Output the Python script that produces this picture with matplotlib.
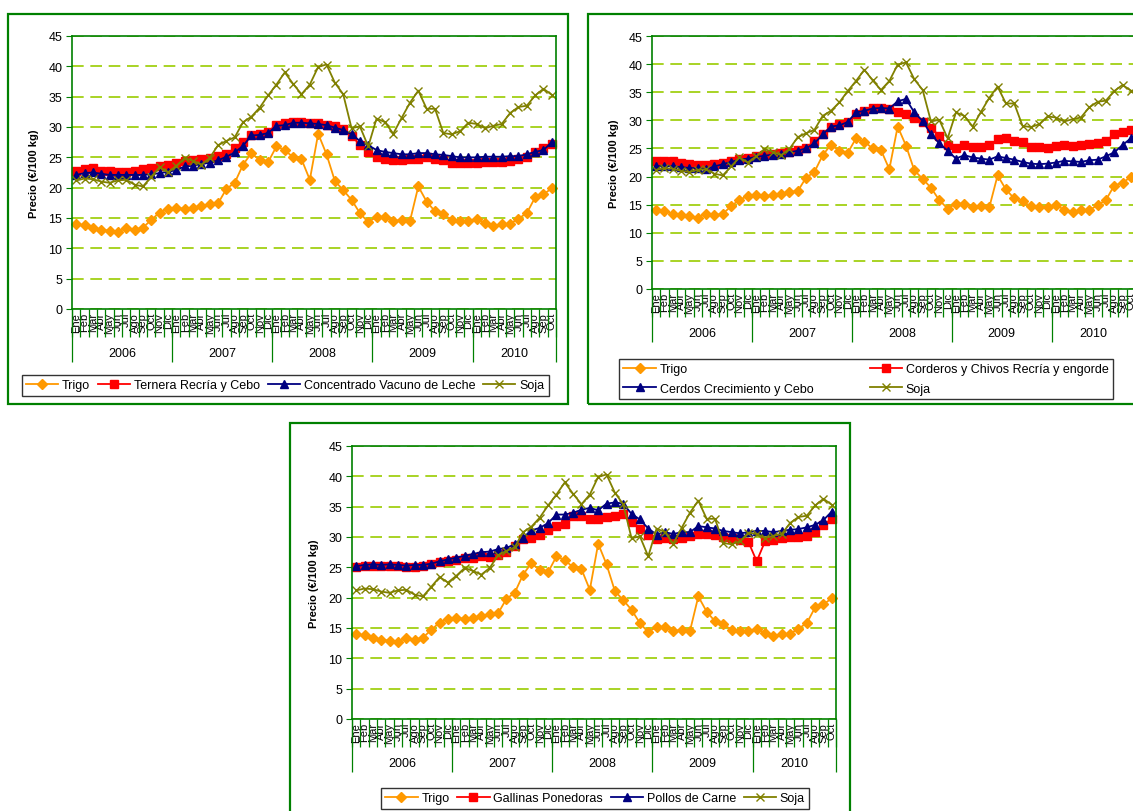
import numpy as np
import matplotlib
matplotlib.use("Agg")
import matplotlib.pyplot as plt
from matplotlib.patches import Rectangle

plt.rcParams["font.family"] = ["Liberation Sans", "DejaVu Sans"]

months = ["Ene", "Feb", "Mar", "Abr", "May", "Jun", "Jul", "Ago", "Sep", "Oct", "Nov", "Dic"]
years = ["2006", "2007", "2008", "2009", "2010"]
month_labels = months * 4 + months[:10]

trigo = [14.0, 13.8, 13.4, 13.1, 12.9, 12.7, 13.4, 13.1, 13.4, 14.7, 15.9, 16.5,
         16.7, 16.5, 16.7, 16.9, 17.3, 17.4, 19.8, 20.8, 23.8, 25.7, 24.5, 24.2,
         26.8, 26.2, 25.0, 24.7, 21.3, 28.9, 25.5, 21.1, 19.6, 18.0, 15.8, 14.3,
         15.2, 15.2, 14.5, 14.7, 14.5, 20.2, 17.7, 16.1, 15.6, 14.7, 14.5, 14.5,
         14.9, 14.1, 13.7, 14.0, 14.0, 14.9, 15.8, 18.4, 18.9, 19.9]
ternera = [22.8, 23.0, 23.2, 22.8, 22.8, 22.6, 22.6, 22.8, 23.0, 23.2, 23.5, 23.8,
           24.1, 24.4, 24.6, 24.7, 24.9, 25.2, 25.6, 26.5, 27.5, 28.6, 28.9, 29.2,
           30.4, 30.7, 30.9, 30.8, 30.7, 30.6, 30.4, 30.2, 29.6, 28.5, 27.1, 25.9,
           25.0, 24.8, 24.6, 24.6, 24.7, 24.8, 25.0, 24.7, 24.5, 24.0, 24.0, 24.0,
           24.0, 24.2, 24.3, 24.2, 24.4, 24.7, 25.0, 25.9, 26.5, 27.2]
concentrado = [22.1, 22.4, 22.5, 22.3, 22.1, 22.1, 22.1, 22.1, 22.1, 22.2, 22.4, 22.6,
               22.9, 23.5, 23.6, 23.9, 24.1, 24.5, 25.1, 25.8, 26.9, 28.6, 28.7, 29.0,
               30.2, 30.3, 30.7, 30.7, 30.6, 30.5, 30.3, 29.9, 29.5, 28.8, 27.7, 27.0,
               26.2, 25.9, 25.7, 25.5, 25.5, 25.7, 25.7, 25.5, 25.4, 25.2, 25.0, 25.0,
               25.0, 25.1, 25.1, 25.1, 25.2, 25.2, 25.5, 25.9, 26.2, 27.5]
soja = [21.2, 21.5, 21.4, 21.0, 20.8, 21.2, 21.3, 20.5, 20.2, 21.8, 23.4, 22.5,
        23.6, 24.9, 24.4, 23.8, 24.9, 27.0, 27.7, 28.3, 30.8, 31.7, 33.2, 35.2,
        37.0, 39.0, 37.1, 35.4, 37.0, 39.9, 40.3, 37.3, 35.4, 29.8, 30.1, 26.8,
        31.4, 30.8, 28.9, 31.5, 34.0, 36.0, 33.0, 33.0, 29.0, 28.8, 29.3, 30.7,
        30.5, 29.8, 30.2, 30.5, 32.3, 33.3, 33.5, 35.2, 36.3, 35.3]
corderos = [22.7, 22.7, 22.7, 22.5, 22.3, 22.1, 22.0, 22.2, 22.5, 22.8, 23.1, 23.3,
            23.6, 23.8, 24.0, 24.2, 24.4, 24.8, 25.1, 26.3, 27.5, 28.9, 29.3, 29.7,
            31.2, 31.7, 32.2, 32.2, 32.0, 31.5, 31.2, 30.4, 29.7, 28.7, 27.2, 25.7,
            25.1, 25.7, 25.3, 25.3, 25.6, 26.6, 26.8, 26.3, 26.2, 25.3, 25.2, 25.0,
            25.4, 25.6, 25.5, 25.6, 25.8, 26.0, 26.3, 27.5, 28.0, 28.2]
cerdos = [21.8, 21.9, 21.8, 21.7, 21.5, 21.5, 21.3, 21.8, 22.2, 22.6, 23.0, 23.2,
          23.5, 23.7, 23.9, 24.1, 24.3, 24.6, 25.0, 25.9, 27.5, 28.9, 29.1, 29.7,
          31.4, 31.7, 32.1, 32.2, 32.1, 33.4, 33.8, 31.4, 29.9, 27.5, 25.9, 24.6,
          23.2, 23.8, 23.4, 23.2, 23.0, 23.6, 23.3, 23.0, 22.6, 22.3, 22.2, 22.3,
          22.5, 22.8, 22.7, 22.6, 22.9, 23.0, 23.6, 24.3, 25.6, 26.8]
gallinas = [25.0, 25.2, 25.3, 25.3, 25.2, 25.2, 25.1, 25.0, 25.2, 25.5, 25.8, 26.0,
            26.2, 26.5, 26.5, 26.8, 26.7, 27.0, 27.5, 28.5, 29.7, 29.9, 30.3, 31.1,
            31.8, 32.2, 33.4, 33.4, 33.0, 33.0, 33.3, 33.5, 33.8, 32.5, 31.4, 30.3,
            29.6, 29.9, 29.7, 29.9, 30.1, 30.5, 30.5, 30.3, 30.0, 29.8, 29.5, 29.2,
            26.0, 29.3, 29.5, 29.8, 30.0, 30.0, 30.2, 30.8, 32.0, 33.0]
pollos = [25.2, 25.4, 25.5, 25.4, 25.5, 25.4, 25.3, 25.4, 25.4, 25.6, 26.0, 26.3,
          26.6, 26.9, 27.2, 27.5, 27.6, 28.0, 28.2, 28.8, 29.9, 31.1, 31.5, 32.3,
          33.7, 33.7, 34.0, 34.5, 34.8, 34.4, 35.5, 35.7, 35.5, 33.8, 32.9, 31.4,
          30.4, 30.8, 30.5, 30.8, 30.8, 31.8, 31.6, 31.4, 31.0, 30.8, 30.6, 30.8,
          31.0, 31.0, 30.8, 31.0, 31.2, 31.3, 31.6, 32.0, 32.8, 34.2]

W, H = 1133, 812
GREEN = "#008000"
GRID = "#99CC00"
ORANGE = "#FF9900"
RED = "#FF0000"
NAVY = "#000080"
OLIVE = "#808000"


def px_rect(x0, y0, x1, y1):
    return [x0 / W, 1 - y1 / H, (x1 - x0) / W, (y1 - y0) / H]


fig = plt.figure(figsize=(W / 100, H / 100), dpi=100)
fig.patch.set_facecolor("white")

# outer frames of the three charts
for x0, y0, x1, y1 in [(8, 15, 568, 405), (588, 15, 1145, 405), (290, 424, 850, 820)]:
    r = px_rect(x0, y0, x1, y1)
    fig.add_artist(Rectangle((r[0], r[1]), r[2], r[3], transform=fig.transFigure,
                             fill=False, edgecolor=GREEN, linewidth=1.6))


def panel(rect, series):
    ax = fig.add_axes(px_rect(*rect))
    n = len(month_labels)
    x = np.arange(n) + 0.5
    styles = [(ORANGE, "D", 5.0), (RED, "s", 5.5), (NAVY, "^", 6.0), (OLIVE, "x", 6.0)]
    handles = []
    for (name, vals), (c, m, ms) in zip(series, styles):
        h, = ax.plot(x, vals, color=c, marker=m, markersize=ms, linewidth=1.3,
                     markeredgecolor=c, markerfacecolor=c, markeredgewidth=1.0,
                     label=name, clip_on=False)
        handles.append(h)

    ax.set_xlim(0, n)
    ax.set_ylim(0, 45)
    ax.set_yticks(range(0, 46, 5))
    ax.tick_params(axis="y", labelsize=9, length=4, color=GREEN, pad=3)
    ax.yaxis.grid(True, color=GRID, linestyle=(0, (7, 4)), linewidth=1.2)
    ax.set_axisbelow(True)
    for s in ax.spines.values():
        s.set_color(GREEN)
        s.set_linewidth(1.2)

    # month labels
    ax.set_xticks(x)
    ax.set_xticklabels(month_labels, rotation=90, fontsize=8)
    ax.tick_params(axis="x", length=0, pad=2)
    # month separators
    ax.set_xticks(np.arange(0, n + 1), minor=True)
    ax.tick_params(axis="x", which="minor", length=20, color=GREEN, width=0.9)
    # year separators
    sec = ax.secondary_xaxis("bottom")
    sec.set_xticks([0, 12, 24, 36, 48, n])
    sec.set_xticklabels([])
    sec.tick_params(length=38, color=GREEN, width=0.9)
    sec.spines["bottom"].set_visible(False)
    centers = [6, 18, 30, 42, 48 + (n - 48) / 2]
    for cx, yl in zip(centers, years):
        ax.annotate(yl, xy=(cx, 0), xycoords=("data", "axes fraction"),
                    xytext=(0, -32), textcoords="offset points",
                    ha="center", va="center", fontsize=9)

    ax.set_ylabel("Precio (€/100 kg)", fontsize=8, fontweight="bold")
    ax.yaxis.set_label_coords(-0.068, 0.5)
    return ax, handles


ax1, h1 = panel((72, 37, 556, 310),
                [("Trigo", trigo), ("Ternera Recría y Cebo", ternera),
                 ("Concentrado Vacuno de Leche", concentrado), ("Soja", soja)])
ax2, h2 = panel((652, 37, 1135, 290),
                [("Trigo", trigo), ("Corderos y Chivos Recría y engorde", corderos),
                 ("Cerdos Crecimiento y Cebo", cerdos), ("Soja", soja)])
ax3, h3 = panel((352, 447, 836, 720),
                [("Trigo", trigo), ("Gallinas Ponedoras", gallinas),
                 ("Pollos de Carne", pollos), ("Soja", soja)])

leg_kw = dict(fontsize=9, frameon=True, fancybox=False, edgecolor="black",
              handlelength=2.6, handletextpad=0.3, borderpad=0.35, numpoints=1)

l1 = fig.legend(h1, [h.get_label() for h in h1], loc="center", ncol=4,
                bbox_to_anchor=(285 / W, 1 - 386.5 / H), columnspacing=0.6, **leg_kw)
l1.get_frame().set_linewidth(1.0)

order2 = [h2[0], h2[2], h2[1], h2[3]]
l2 = fig.legend(order2, [h.get_label() for h in order2], loc="lower left", ncol=2,
                mode="expand", bbox_to_anchor=px_rect(619, 358, 1113, 400),
                borderaxespad=0, labelspacing=0.6, **leg_kw)
l2.get_frame().set_linewidth(1.0)

l3 = fig.legend(h3, [h.get_label() for h in h3], loc="center", ncol=4,
                bbox_to_anchor=(595 / W, 1 - 799.5 / H), columnspacing=0.6, **leg_kw)
l3.get_frame().set_linewidth(1.0)

fig.savefig("out.png", dpi=100)
plt.close(fig)
